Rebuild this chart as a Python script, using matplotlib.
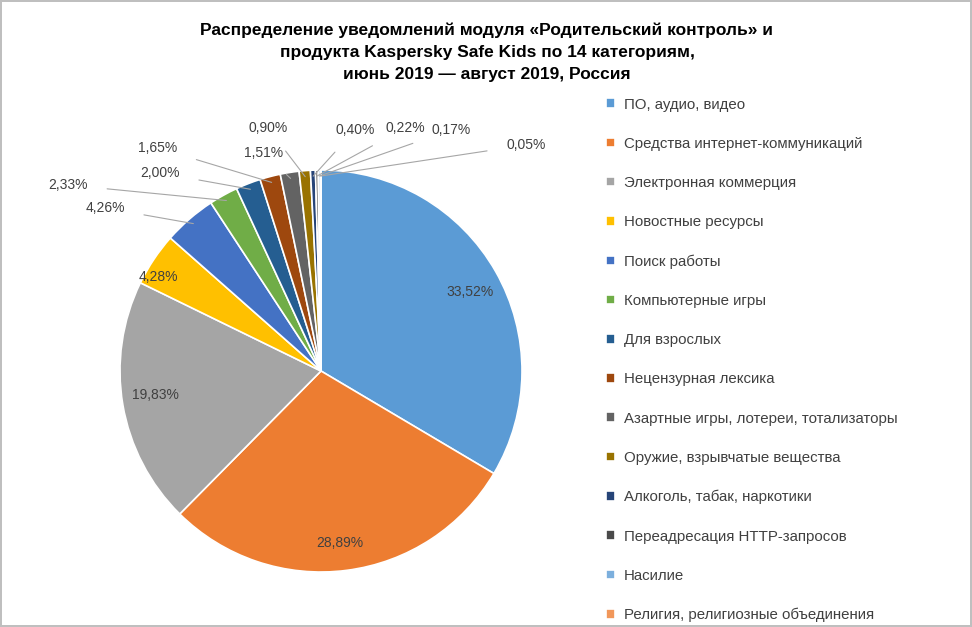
import matplotlib
matplotlib.use("Agg")
import matplotlib.pyplot as plt
import numpy as np

categories = ["ПО, аудио, видео", "Средства интернет-коммуникаций", "Электронная коммерция",
              "Новостные ресурсы", "Поиск работы", "Компьютерные игры", "Для взрослых",
              "Нецензурная лексика", "Азартные игры, лотереи, тотализаторы",
              "Оружие, взрывчатые вещества", "Алкоголь, табак, наркотики",
              "Переадресация HTTP-запросов", "Насилие", "Религия, религиозные объединения"]
values = [33.52, 28.89, 19.83, 4.28, 4.26, 2.33, 2.00, 1.65, 1.51, 0.90, 0.40, 0.22, 0.17, 0.05]
labels = ["33,52%", "28,89%", "19,83%", "4,28%", "4,26%", "2,33%", "2,00%", "1,65%",
          "1,51%", "0,90%", "0,40%", "0,22%", "0,17%", "0,05%"]
colors = ["#5B9BD5", "#ED7D31", "#A5A5A5", "#FFC000", "#4472C4", "#70AD47", "#255E91",
          "#9E480E", "#636363", "#997300", "#264478", "#4A4A4A", "#7CAFDD", "#F1975A"]

plt.rcParams["font.family"] = "Liberation Sans"
fig = plt.figure(figsize=(9.72, 6.27), dpi=100)
fig.patch.set_edgecolor("#BFBFBF"); fig.patch.set_linewidth(1.5)
W, H = 972, 627
cx, cy, r = 321, 371, 201
ax = fig.add_axes([(cx - r) / W, (H - cy - r) / H, 2 * r / W, 2 * r / H])
wedges, _ = ax.pie(values, colors=colors, startangle=90, counterclock=False, radius=1,
                   wedgeprops=dict(edgecolor="white", linewidth=1.2))
ax.set_xlim(-1, 1); ax.set_ylim(-1, 1); ax.set_aspect("auto"); ax.axis("off")

def d(px, py):
    return (px - cx) / r, (cy - py) / r

inside = {0: (470, 292), 1: (340, 543), 2: (155, 395), 3: (158, 277)}
outside = {4: (105, 208), 5: (68, 185), 6: (160, 173), 7: (158, 148), 8: (264, 153),
           9: (268, 128), 10: (355, 130), 11: (405, 128), 12: (451, 130), 13: (526, 145)}
for i, w in enumerate(wedges):
    if i in inside:
        ax.text(*d(*inside[i]), labels[i], ha="center", va="center", fontsize=10, color="#404040")
    else:
        a = np.deg2rad((w.theta1 + w.theta2) / 2)
        tx, ty = d(*outside[i])
        ax.annotate(labels[i], xy=(0.97 * np.cos(a), 0.97 * np.sin(a)), xytext=(tx, ty),
                    ha="center", va="center", fontsize=10, color="#404040",
                    arrowprops=dict(arrowstyle="-", color="#A6A6A6", lw=0.8,
                                    shrinkA=12, shrinkB=0), annotation_clip=False)

fig.text(487 / W, 1 - 52 / H,
         "Распределение уведомлений модуля «Родительский контроль» и\n"
         "продукта Kaspersky Safe Kids по 14 категориям,\n"
         "июнь 2019 — август 2019, Россия",
         ha="center", va="center", fontsize=12.5, fontweight="bold", linespacing=1.6)

fig.legend(wedges, categories, loc="upper left", bbox_to_anchor=(592 / W, 1 - 84 / H),
           frameon=False, fontsize=10.8, handlelength=0.6, handleheight=0.6,
           handletextpad=0.6, labelspacing=1.68, labelcolor="#404040")
fig.savefig("out.png", dpi=100)
